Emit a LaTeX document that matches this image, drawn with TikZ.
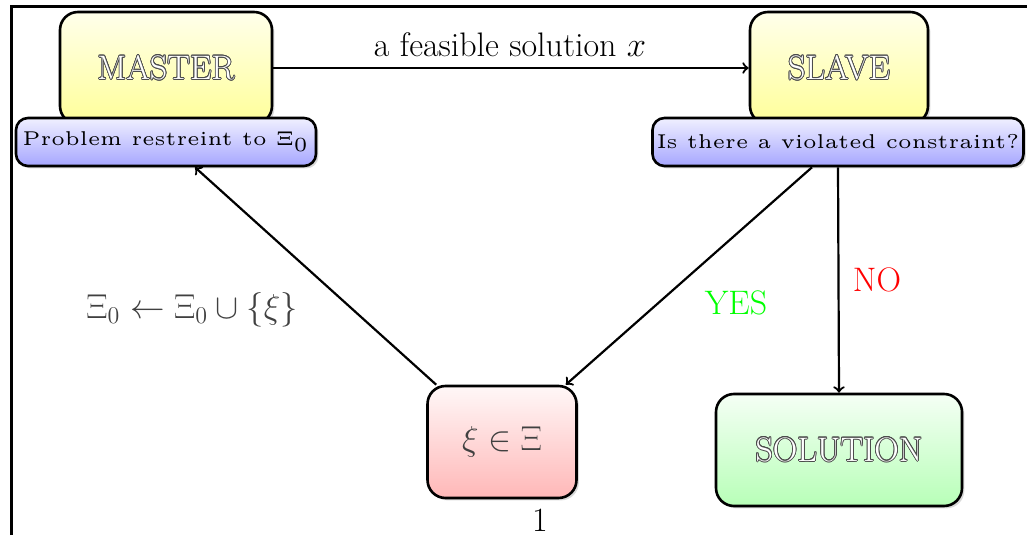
\documentclass[tikz,border=0pt]{standalone}
\usepackage[copies]{contour}
\usetikzlibrary{shadows}
\contourlength{0.4pt}
\newcommand{\hollow}[1]{{\color{white}\contour{black!70}{#1}}}

\begin{document}
\begin{tikzpicture}[x=0.5pt, y=0.5pt, font=\fontsize{17}{20}\selectfont,
    box/.style={draw, line width=1.3pt, rounded corners=9pt,
      minimum height=56pt,
      drop shadow={opacity=0.3, shadow xshift=1.2pt, shadow yshift=-1.2pt}},
    tag/.style={draw, line width=1.3pt, rounded corners=6pt,
      minimum height=24pt, inner sep=1pt, top color=blue!6, bottom color=blue!35,
      drop shadow={opacity=0.3, shadow xshift=1.2pt, shadow yshift=-1.2pt}},
    conn/.style={-to, line width=1.1pt}]
    \useasboundingbox (0,0) rectangle (1027,535);
    \draw[line width=1.5pt] (11,0) -- (11,528) -- (1027,528);

    \node[box, top color=yellow!8, bottom color=yellow!40, minimum width=106pt] (master) at (166,467) {\hollow{MASTER}};
    \node[box, top color=yellow!8, bottom color=yellow!40, minimum width=89pt] (slave) at (839,467) {\hollow{SLAVE}};
    \node[tag, minimum width=150pt] (pm) at (166,393) {\scalebox{2}{\tiny Problem restreint to $\Xi_{\scriptscriptstyle 0}$}};
    \node[tag, minimum width=185.5pt] (ps) at (838,393) {\scalebox{2}{\tiny Is there a violated constraint?}};
    \node[box, top color=red!3, bottom color=red!28, minimum width=74.5pt, text=black!75] (xi) at (502,93) {$\xi\in\Xi$};
    \node[box, top color=green!4, bottom color=green!28, minimum width=123pt] (sol) at (839,85) {\hollow{SOLUTION}};

    \node (feas) at (510,490) {a feasible solution $x$};
    \node[text=red] (no) at (877,255) {NO};
    \node[text=green] (yes) at (736,232) {YES};
    \node[text=black!75] (upd) at (192,225) {$\Xi_0 \leftarrow \Xi_0 \cup \{\xi\}$};
    \node[anchor=south, inner sep=0pt] (pg) at (540,3) {1};

    \draw[conn] (master) -- (slave);
    \draw[conn] ([xshift=-13pt]ps.south) -- ([xshift=-6pt]xi.north east);
    \draw[conn] (ps.south) -- (sol.north);
    \draw[conn] ([xshift=5pt]xi.north west) -- ([xshift=14.5pt]pm.south);
\end{tikzpicture}
\end{document}
